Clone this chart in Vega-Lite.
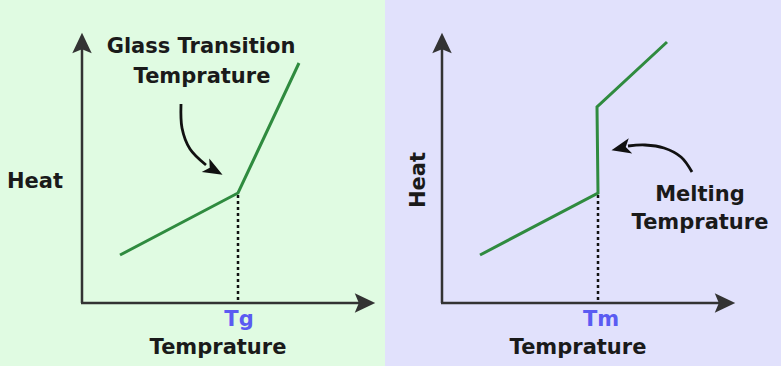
{
  "$schema": "https://vega.github.io/schema/vega-lite/v6.json",
  "width": 781,
  "height": 366,
  "padding": 0,
  "background": "#ffffff",
  "config": {"view": {"stroke": null}},
  "datasets": {
    "panels": [
      {"x": 0, "x2": 385, "y": 0, "y2": 366, "panel": "Glass"},
      {"x": 385, "x2": 781, "y": 0, "y2": 366, "panel": "Melting"}
    ],
    "axes": [
      {"x": 82, "x2": 82, "y": 303, "y2": 46},
      {"x": 81, "x2": 364, "y": 303, "y2": 303},
      {"x": 442, "x2": 442, "y": 303, "y2": 46},
      {"x": 441, "x2": 724, "y": 303, "y2": 303}
    ],
    "heads": [
      {"x": 82, "y": 43, "angle": 270, "kind": "axis"},
      {"x": 365, "y": 303, "angle": 0, "kind": "axis"},
      {"x": 442, "y": 43, "angle": 270, "kind": "axis"},
      {"x": 725, "y": 303, "angle": 0, "kind": "axis"}
    ],
    "curveHeads": [
      {"x": 214, "y": 170, "angle": 29},
      {"x": 621, "y": 148, "angle": 167}
    ],
    "curves": [
      {"id": "a", "i": 0, "x": 181, "y": 104},
      {"id": "a", "i": 1, "x": 182, "y": 128},
      {"id": "a", "i": 2, "x": 190, "y": 149},
      {"id": "a", "i": 3, "x": 206, "y": 165},
      {"id": "b", "i": 0, "x": 692, "y": 172},
      {"id": "b", "i": 1, "x": 681, "y": 157},
      {"id": "b", "i": 2, "x": 664, "y": 148},
      {"id": "b", "i": 3, "x": 645, "y": 145},
      {"id": "b", "i": 4, "x": 628, "y": 146}
    ],
    "heat": [
      {"panel": "Glass", "i": 0, "x": 120, "y": 255},
      {"panel": "Glass", "i": 1, "x": 238, "y": 193},
      {"panel": "Glass", "i": 2, "x": 299, "y": 63},
      {"panel": "Melting", "i": 0, "x": 480, "y": 255},
      {"panel": "Melting", "i": 1, "x": 598, "y": 193},
      {"panel": "Melting", "i": 2, "x": 597, "y": 107},
      {"panel": "Melting", "i": 3, "x": 667, "y": 42}
    ],
    "drops": [
      {"x": 238, "y": 195, "y2": 303},
      {"x": 598, "y": 195, "y2": 303}
    ],
    "labels": [
      {"x": 201, "y": 47, "text": "Glass Transition", "kind": "dark", "angle": 0},
      {"x": 202, "y": 77, "text": "Temprature", "kind": "dark", "angle": 0},
      {"x": 35, "y": 182, "text": "Heat", "kind": "dark", "angle": 0},
      {"x": 218, "y": 348, "text": "Temprature", "kind": "dark", "angle": 0},
      {"x": 419, "y": 180, "text": "Heat", "kind": "dark", "angle": 270},
      {"x": 700, "y": 195, "text": "Melting", "kind": "dark", "angle": 0},
      {"x": 700, "y": 223, "text": "Temprature", "kind": "dark", "angle": 0},
      {"x": 578, "y": 348, "text": "Temprature", "kind": "dark", "angle": 0},
      {"x": 239, "y": 320, "text": "Tg", "kind": "blue", "angle": 0},
      {"x": 601, "y": 320, "text": "Tm", "kind": "blue", "angle": 0}
    ]
  },
  "layer": [
    {
      "data": {"name": "panels"},
      "mark": {"type": "rect"},
      "encoding": {
        "x": {"field": "x", "type": "quantitative", "scale": {"domain": [0, 781], "nice": false, "zero": false}, "axis": null},
        "x2": {"field": "x2"},
        "y": {"field": "y", "type": "quantitative", "scale": {"domain": [0, 366], "nice": false, "zero": false, "reverse": true}, "axis": null},
        "y2": {"field": "y2"},
        "color": {"field": "panel", "type": "nominal", "scale": {"domain": ["Glass", "Melting"], "range": ["#e0fbe2", "#e1e1fc"]}, "legend": null}
      }
    },
    {
      "data": {"name": "axes"},
      "mark": {"type": "rule", "color": "#333333", "strokeWidth": 2.5},
      "encoding": {
        "x": {"field": "x", "type": "quantitative"},
        "x2": {"field": "x2"},
        "y": {"field": "y", "type": "quantitative"},
        "y2": {"field": "y2"}
      }
    },
    {
      "data": {"name": "heads"},
      "mark": {"type": "point", "shape": "M1,0 L-1,-0.95 L-0.6,0 L-1,0.95 Z", "filled": true, "color": "#333333", "opacity": 1, "size": 420},
      "encoding": {
        "x": {"field": "x", "type": "quantitative"},
        "y": {"field": "y", "type": "quantitative"},
        "angle": {"field": "angle", "type": "quantitative", "scale": null}
      }
    },
    {
      "data": {"name": "drops"},
      "mark": {"type": "rule", "color": "#111111", "strokeWidth": 2.5, "strokeDash": [3, 3]},
      "encoding": {
        "x": {"field": "x", "type": "quantitative"},
        "y": {"field": "y", "type": "quantitative"},
        "y2": {"field": "y2"}
      }
    },
    {
      "data": {"name": "heat"},
      "mark": {"type": "line", "color": "#2f8b3f", "strokeWidth": 3, "strokeJoin": "miter"},
      "encoding": {
        "x": {"field": "x", "type": "quantitative"},
        "y": {"field": "y", "type": "quantitative"},
        "detail": {"field": "panel"},
        "order": {"field": "i"}
      }
    },
    {
      "data": {"name": "curves"},
      "mark": {"type": "line", "color": "#111111", "strokeWidth": 2.8, "interpolate": "cardinal"},
      "encoding": {
        "x": {"field": "x", "type": "quantitative"},
        "y": {"field": "y", "type": "quantitative"},
        "detail": {"field": "id"},
        "order": {"field": "i"}
      }
    },
    {
      "data": {"name": "curveHeads"},
      "mark": {"type": "point", "shape": "M1,0 L-1,-0.8 L-0.5,0 L-1,0.8 Z", "filled": true, "color": "#111111", "opacity": 1, "size": 380},
      "encoding": {
        "x": {"field": "x", "type": "quantitative"},
        "y": {"field": "y", "type": "quantitative"},
        "angle": {"field": "angle", "type": "quantitative", "scale": null}
      }
    },
    {
      "data": {"name": "labels"},
      "mark": {"type": "text", "font": "DejaVu Sans", "fontSize": 21, "fontWeight": "bold", "align": "center", "baseline": "middle"},
      "encoding": {
        "x": {"field": "x", "type": "quantitative"},
        "y": {"field": "y", "type": "quantitative"},
        "text": {"field": "text"},
        "angle": {"field": "angle", "type": "quantitative", "scale": null},
        "color": {"field": "kind", "type": "nominal", "scale": {"domain": ["dark", "blue"], "range": ["#1a1a1a", "#5b5bf2"]}, "legend": null}
      }
    }
  ],
  "resolve": {"scale": {"color": "independent"}}
}
